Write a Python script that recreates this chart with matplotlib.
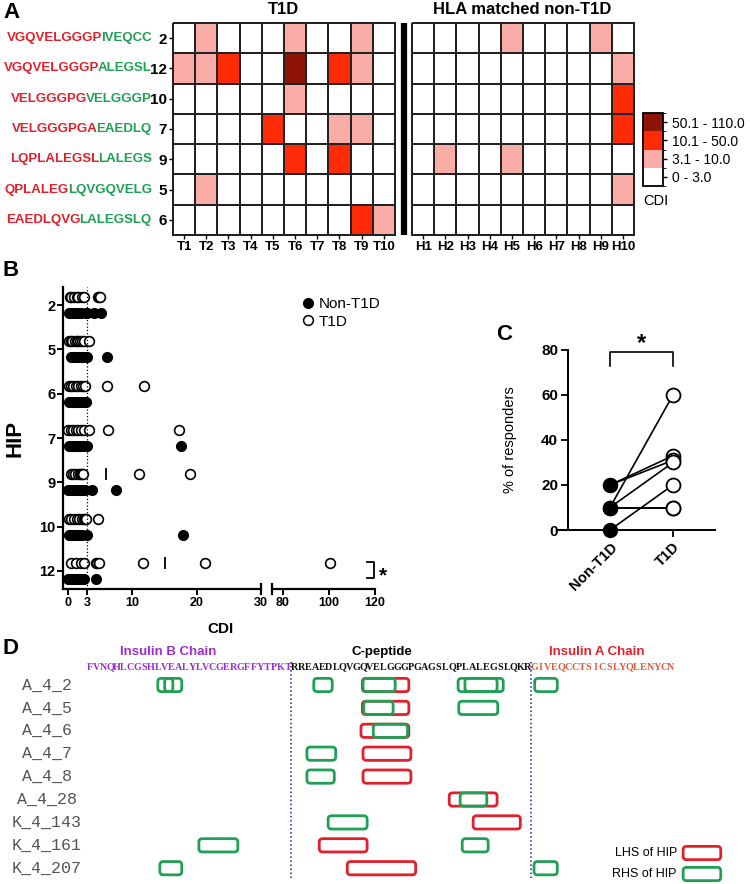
import matplotlib
matplotlib.use('Agg')
import matplotlib.pyplot as plt
import numpy as np
from matplotlib.colors import ListedColormap, BoundaryNorm
from matplotlib.patches import FancyBboxPatch
from matplotlib.lines import Line2D

plt.rcParams['font.family'] = ['Liberation Sans', 'DejaVu Sans']

# ---------------- Panel A data ----------------
hip_rows = ['2', '12', '10', '7', '9', '5', '6']
seq_red = ['VGQVELGGGP', 'VGQVELGGGP', 'VELGGGPG', 'VELGGGPGA', 'LQPLALEGSL', 'QPLALEG', 'EAEDLQVG']
seq_green = ['IVEQCC', 'ALEGSL', 'VELGGGP', 'EAEDLQ', 'LALEGS', 'LQVGQVELG', 'LALEGSLQ']
t1d_donors = ['T1', 'T2', 'T3', 'T4', 'T5', 'T6', 'T7', 'T8', 'T9', 'T10']
ctrl_donors = ['H1', 'H2', 'H3', 'H4', 'H5', 'H6', 'H7', 'H8', 'H9', 'H10']
# CDI level codes: 0 = 0-3.0, 1 = 3.1-10.0, 2 = 10.1-50.0, 3 = 50.1-110.0
t1d_levels = [
    [0, 1, 0, 0, 0, 1, 0, 0, 1, 0],
    [1, 1, 2, 0, 0, 3, 0, 2, 1, 0],
    [0, 0, 0, 0, 0, 1, 0, 0, 0, 0],
    [0, 0, 0, 0, 2, 0, 0, 1, 1, 0],
    [0, 0, 0, 0, 0, 2, 0, 2, 0, 0],
    [0, 1, 0, 0, 0, 0, 0, 0, 0, 0],
    [0, 0, 0, 0, 0, 0, 0, 0, 2, 1],
]
ctrl_levels = [
    [0, 0, 0, 0, 1, 0, 0, 0, 1, 0],
    [0, 0, 0, 0, 0, 0, 0, 0, 0, 1],
    [0, 0, 0, 0, 0, 0, 0, 0, 0, 2],
    [0, 0, 0, 0, 0, 0, 0, 0, 0, 2],
    [0, 1, 0, 0, 1, 0, 0, 0, 0, 0],
    [0, 0, 0, 0, 0, 0, 0, 0, 0, 1],
    [0, 0, 0, 0, 0, 0, 0, 0, 0, 0],
]
level_colors = ['#FFFFFF', '#F9ADA6', '#FF2B06', '#8E1406']
level_labels = ['0 - 3.0', '3.1 - 10.0', '10.1 - 50.0', '50.1 - 110.0']

# ---------------- Panel B data ----------------
b_hips = ['2', '5', '6', '7', '9', '10', '12']
b_t1d = [
    [0.3, 0.5, 0.9, 1.3, 1.6, 2.2, 2.4, 4.7, 4.8, 4.9],
    [0.2, 0.4, 0.6, 1.0, 1.3, 1.6, 1.9, 2.2, 2.5, 3.3],
    [0.1, 0.4, 0.8, 1.2, 1.6, 2.0, 2.3, 2.6, 6.1, 11.8],
    [0.0, 0.4, 0.8, 1.2, 1.6, 2.0, 2.4, 3.3, 6.2, 17.2],
    [0.4, 0.8, 1.0, 1.5, 1.8, 2.0, 2.1, 2.3, 11.0, 18.9],
    [0.2, 0.5, 0.9, 1.3, 1.7, 2.1, 2.4, 2.6, 2.8, 4.7],
    [0.4, 1.2, 2.0, 2.5, 4.3, 4.5, 4.8, 11.7, 21.3, 100.5],
]
b_ctrl = [
    [0.1, 0.4, 0.8, 1.2, 1.6, 2.0, 2.7, 2.9, 4.0, 5.1],
    [0.5, 0.8, 1.1, 1.4, 1.7, 2.0, 2.3, 2.6, 2.9, 6.1],
    [0.1, 0.4, 0.7, 1.0, 1.3, 1.6, 1.9, 2.2, 2.5, 2.8],
    [0.2, 0.5, 0.8, 1.1, 1.4, 1.7, 2.0, 2.3, 3.0, 17.6],
    [0.0, 0.3, 0.7, 1.1, 1.4, 1.8, 2.2, 2.6, 3.7, 7.5],
    [0.1, 0.4, 0.7, 1.0, 1.3, 1.6, 1.9, 2.2, 2.9, 17.9],
    [0.0, 0.3, 0.6, 0.9, 1.2, 1.5, 1.8, 2.1, 2.5, 4.4],
]
b_marks = [None, None, None, None, 5.9, None, 15.0]

# ---------------- Panel C data ----------------
c_groups = ['Non-T1D', 'T1D']
c_non = [20, 20, 10, 10, 10, 10, 0]
c_t1d = [33, 31, 60, 30, 10, 10, 20]

# ---------------- Panel D data ----------------
b_chain = 'FVNQHLCGSHLVEALYLVCGERGFFYTPKT'
c_pep = 'RREAEDLQVGQVELGGGPGAGSLQPLALEGSLQKR'
a_chain = 'GIVEQCCTSICSLYQLENYCN'
d_labels = ['A_4_2', 'A_4_5', 'A_4_6', 'A_4_7', 'A_4_8', 'A_4_28', 'K_4_143', 'K_4_161', 'K_4_207']
d_lhs = [(0, 40.4, 47.2), (1, 40.4, 47.2), (2, 40.2, 47.2), (3, 40.5, 47.5), (4, 40.5, 47.5),
         (5, 53.1, 60.1), (6, 56.6, 63.5), (7, 34.1, 41.1), (8, 38.2, 48.2)]
d_rhs = [(0, 10.5, 12.7), (0, 11.5, 14.0), (0, 33.3, 36.0), (0, 40.5, 45.2), (0, 54.4, 61.0),
         (0, 55.4, 60.1), (0, 65.6, 68.9), (1, 40.6, 44.9), (1, 54.5, 60.2), (2, 42.0, 47.0),
         (3, 32.3, 36.5), (4, 32.3, 36.3), (5, 54.7, 58.6), (6, 35.4, 41.1), (7, 16.5, 22.2),
         (7, 55.0, 58.8), (8, 10.8, 14.0), (8, 65.5, 68.9)]

RED = '#E0202C'
GREEN = '#1FA055'

W, H = 750, 884
fig = plt.figure(figsize=(W / 100, H / 100), dpi=100)


def fax(l, t, r, b):
    return fig.add_axes([l / W, 1 - b / H, (r - l) / W, (b - t) / H])


# ================= Panel A =================
axA = fax(173, 23, 634, 235)
cmap = ListedColormap(level_colors)
norm = BoundaryNorm([-0.5, 0.5, 1.5, 2.5, 3.5], 4)
gap = 0.77
nT = len(t1d_donors)
nH = len(ctrl_donors)
nR = len(hip_rows)
xT = np.arange(nT + 1)
xH = np.arange(nH + 1) + nT + gap
yE = np.arange(nR + 1)
mesh = axA.pcolormesh(xT, yE, np.array(t1d_levels), cmap=cmap, norm=norm,
                      edgecolors='#222222', linewidth=1.2)
mesh2 = axA.pcolormesh(xH, yE, np.array(ctrl_levels), cmap=cmap, norm=norm,
                       edgecolors='#222222', linewidth=1.2)
mesh.set_clip_on(False)
mesh2.set_clip_on(False)
axA.set_xlim(0, nT + gap + nH)
axA.set_ylim(nR, 0)
axA.plot([nT + gap / 2] * 2, [0, nR], color='black', lw=4.5, clip_on=False, solid_capstyle='butt')
for s in axA.spines.values():
    s.set_visible(False)
xt = list(np.arange(nT) + 0.5) + list(np.arange(nH) + nT + gap + 0.5)
axA.set_xticks(xt)
axA.set_xticklabels(t1d_donors + ctrl_donors, fontweight='bold', fontsize=9.5)
axA.set_yticks(np.arange(nR) + 0.5)
axA.set_yticklabels(hip_rows, fontweight='bold', fontsize=11)
axA.tick_params(length=3, width=1, pad=1.5)

trans = axA.get_yaxis_transform()
for i in range(nR):
    g = axA.text(-0.046, i + 0.5, seq_green[i], transform=trans, ha='right', va='center',
                 color=GREEN, fontweight='bold', fontsize=9.5)
    axA.annotate(seq_red[i], xy=(0, 0), xycoords=g, xytext=(0.8, 0), textcoords='offset points',
                 ha='right', va='bottom', color=RED, fontweight='bold', fontsize=9.5)

fig.text((173 + 5 * 22.17) / W, 1 - 10 / H, 'T1D', fontweight='bold', fontsize=12,
         ha='center', va='center')
fig.text((173 + (nT + gap + 5) * 22.17) / W, 1 - 10 / H, 'HLA matched non-T1D',
         fontweight='bold', fontsize=12, ha='center', va='center')

cax = fax(643, 113, 663, 186)
cb = fig.colorbar(mesh, cax=cax, ticks=[0, 1, 2, 3])
cb.set_ticklabels(level_labels)
cb.ax.tick_params(labelsize=10, length=3, width=1)
cb.outline.set_linewidth(1.3)
fig.text(643 / W, 1 - 201 / H, 'CDI', fontsize=10.5, ha='left', va='center')

# ================= Panel B =================
axB1 = fax(63, 287, 261, 589)
axB2 = fax(272, 287, 375, 589)
off = 0.18
for ax in (axB1, axB2):
    ax.set_ylim(len(b_hips) - 0.59, -0.41)
axB1.set_xlim(-0.8, 30)
axB2.set_xlim(75.2, 120)
for i in range(len(b_hips)):
    for ax, lo, hi in ((axB1, -1, 30), (axB2, 75, 200)):
        tv = [v for v in b_t1d[i] if lo <= v <= hi]
        cv = [v for v in b_ctrl[i] if lo <= v <= hi]
        ax.plot(cv, [i + off] * len(cv), 'o', ms=7, mfc='black', mec='black', mew=1.0, clip_on=False)
        ax.plot(tv, [i - off] * len(tv), 'o', ms=7, mfc='white', mec='black', mew=1.2, clip_on=False)
    if b_marks[i] is not None:
        axB1.plot([b_marks[i]], [i - off], marker='|', ms=8, mew=1.3, color='black')
axB1.axvline(3, color='black', ls=':', lw=0.9)
axB1.spines['top'].set_visible(False)
axB1.spines['right'].set_visible(False)
for k in ('top', 'right', 'left'):
    axB2.spines[k].set_visible(False)
for ax in (axB1, axB2):
    ax.spines['bottom'].set_linewidth(1.6)
    ax.tick_params(length=4, width=1.4, pad=1.5)
axB1.spines['left'].set_linewidth(1.6)
axB1.set_yticks(range(len(b_hips)))
axB1.set_yticklabels(b_hips, fontweight='bold', fontsize=10.5)
axB2.set_yticks([])
axB1.set_xticks([0, 3, 10, 20, 30])
axB1.set_xticklabels(['0', '3', '10', '20', '30'], fontweight='bold', fontsize=9)
axB2.set_xticks([80, 100, 120])
axB2.set_xticklabels(['80', '100', '120'], fontweight='bold', fontsize=9)
axB1.plot([1, 1], [-0.018, 0.018], transform=axB1.transAxes, color='black', lw=1.6, clip_on=False)
axB2.plot([0, 0], [-0.018, 0.018], transform=axB2.transAxes, color='black', lw=1.6, clip_on=False)
axB1.set_ylabel('HIP', fontsize=16, fontweight='bold')
axB1.yaxis.set_label_coords((25 - 63) / 198, 0.5)
fig.text(220 / W, 1 - 629 / H, 'CDI', fontsize=11, fontweight='bold', ha='center', va='center')
last = len(b_hips) - 1
axB2.plot([116.5, 119.6, 119.6, 116.5], [last - 0.2, last - 0.2, last + 0.16, last + 0.16],
          color='black', lw=1.3, clip_on=False)
axB2.text(121.5, last + 0.12, '*', fontsize=15, fontweight='bold', ha='left', va='center', clip_on=False)
handles = [Line2D([], [], ls='none', marker='o', ms=7, mfc='black', mec='black'),
           Line2D([], [], ls='none', marker='o', ms=7, mfc='white', mec='black', mew=1.1)]
fig.legend(handles, ['Non-T1D', 'T1D'], loc='upper left', bbox_to_anchor=(300 / W, 1 - 297 / H),
           frameon=False, fontsize=11, handletextpad=0.2, labelspacing=0.25, borderpad=0,
           handlelength=1.0, borderaxespad=0)

# ================= Panel C =================
axC = fax(558, 350, 715, 530)
axC.set_xlim(-0.825, 1.667)
axC.set_ylim(0, 80)
for a, b in zip(c_non, c_t1d):
    axC.plot([0, 1], [a, b], color='black', lw=1.2, zorder=1, clip_on=False)
axC.plot([0] * len(c_non), c_non, 'o', ms=10, mfc='black', mec='black', zorder=3, clip_on=False)
axC.plot([1] * len(c_t1d), c_t1d, 'o', ms=10, mfc='white', mec='black', mew=1.3, zorder=3, clip_on=False)
axC.spines['top'].set_visible(False)
axC.spines['right'].set_visible(False)
axC.spines['left'].set_position(('data', -0.667))
axC.spines['left'].set_bounds(0, 80)
axC.spines['left'].set_linewidth(1.4)
axC.spines['bottom'].set_linewidth(1.4)
axC.set_yticks([0, 20, 40, 60, 80])
axC.set_yticklabels(['0', '20', '40', '60', '80'], fontweight='bold', fontsize=11)
axC.set_xticks([0, 1])
axC.set_xticklabels(c_groups, fontweight='bold', fontsize=10.5, rotation=45, ha='right',
                    rotation_mode='anchor')
axC.tick_params(length=5, width=1.3, pad=2)
axC.set_ylabel('% of responders', fontsize=10.5)
axC.yaxis.set_label_coords(-0.26, 0.5)
axC.plot([0, 0, 1, 1], [73, 79, 79, 73], color='black', lw=1.2, clip_on=False)
axC.text(0.5, 83, '*', fontsize=17, fontweight='bold', ha='center', va='center', clip_on=False)

# ================= Panel D =================
px_res = 6.84
row_px = 22.9
axD = fax(0, 640, 750, 884)
axD.set_xlim(-86 / px_res, (750 - 86) / px_res)
axD.set_ylim((884 - 685) / row_px, (640 - 685) / row_px)
axD.axis('off')
seq_y = (667 - 685) / row_px
title_y = (652 - 685) / row_px
pos = 0
for seq, col in ((b_chain, '#9A2FD0'), (c_pep, '#111111'), (a_chain, '#E25A3A')):
    for ch in seq:
        axD.text(pos + 0.5, seq_y, ch, ha='center', va='center', color=col,
                 fontfamily='Liberation Serif', fontweight='bold', fontsize=7.3)
        pos += 1
nb = len(b_chain)
nc = len(c_pep)
for xb in (nb, nb + nc):
    axD.plot([xb, xb], [seq_y - 0.2, 8.43], ls=':', color='#2020A0', lw=1.1)
axD.text(nb / 2 - 3, title_y, 'Insulin B Chain', color='#9A2FD0', fontweight='bold', fontsize=9.5,
         ha='center', va='center')
axD.text(nb + 13.3, title_y, 'C-peptide', color='black', fontweight='bold', fontsize=9.5,
         ha='center', va='center')
axD.text(nb + nc + 9.6, title_y, 'Insulin A Chain', color=RED, fontweight='bold', fontsize=9.5,
         ha='center', va='center')
for r, lab in enumerate(d_labels):
    axD.text(-5.7, r, lab, ha='center', va='center', fontfamily='Liberation Mono',
             fontsize=12, color='#555555')

asp = px_res / row_px
bh = 0.58


def box(x0, x1, y, col):
    p = FancyBboxPatch((x0, y - bh / 2), x1 - x0, bh, boxstyle='round,pad=0,rounding_size=0.5',
                       mutation_aspect=asp, fill=False, edgecolor=col, lw=2.0)
    axD.add_patch(p)


for r, x0, x1 in d_lhs:
    box(x0, x1, r, RED)
for r, x0, x1 in d_rhs:
    box(x0, x1, r, GREEN)

leg_y1 = (853 - 685) / row_px
leg_y2 = (874 - 685) / row_px
axD.text(86.4, leg_y1, 'LHS of HIP', ha='right', va='center', fontsize=9)
axD.text(86.4, leg_y2, 'RHS of HIP', ha='right', va='center', fontsize=9)
box(87.3, 92.8, leg_y1, RED)
box(87.3, 92.8, leg_y2, GREEN)

# panel letters
for lab, x, y in (('A', 3, 12), ('B', 3, 270), ('C', 496, 334), ('D', 3, 648)):
    fig.text(x / W, 1 - y / H, lab, fontsize=16, fontweight='bold', ha='left', va='center')

fig.savefig('out.png', dpi=100)
